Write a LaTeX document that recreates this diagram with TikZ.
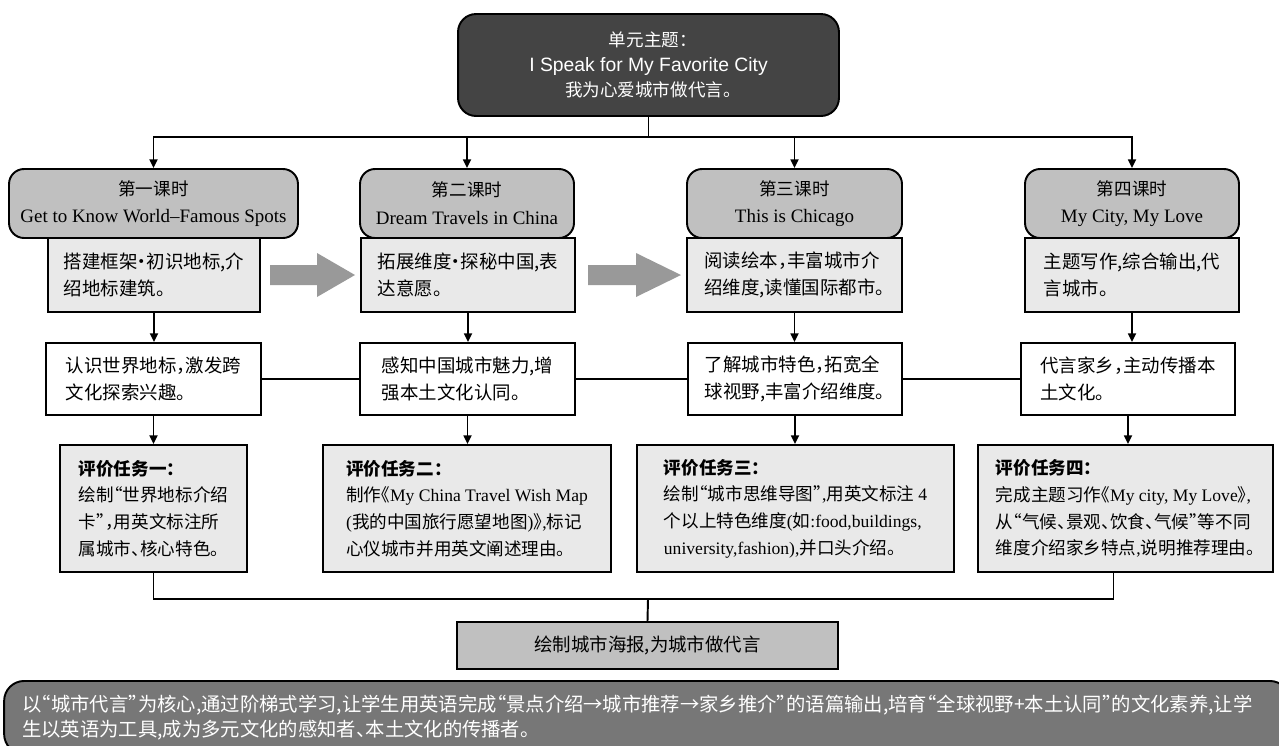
\documentclass[tikz,border=0pt]{standalone}
\usepackage{fontspec}
\setmainfont{Liberation Serif}
\newfontfamily\cjk[RawFeature=+halt]{Noto Sans CJK SC}
\newfontfamily\arialfont{Liberation Sans}
\usetikzlibrary{arrows.meta}
\usepackage{xcolor}
\definecolor{color444444}{HTML}{444444}
\definecolor{colorc0c0c0}{HTML}{C0C0C0}
\definecolor{colore9e9e9}{HTML}{E9E9E9}
\definecolor{color777777}{HTML}{777777}
\definecolor{color999999}{HTML}{999999}
\newcommand{\entxt}[1]{{\rmfamily #1}}
\newcommand{\entitle}[1]{{\rmfamily\fontsize{10.8}{15.8}\selectfont #1}}

\begin{document}
\begin{tikzpicture}
    [x=0.02cm, y=-0.02cm,
     >={Triangle[length=5pt,width=4.5pt]},  % small black tips
     line width=1.1pt,
     theme/.style={rectangle, fill=color444444, draw=black, rounded corners=0.36cm, minimum width=7.62cm, minimum height=2.04cm, text=white, align=center, font=\cjk\fontsize{10}{14.2}\selectfont},
     lesson/.style={rectangle, fill=colorc0c0c0, draw=black, rounded corners=0.3cm, minimum height=1.38cm, align=center, font=\cjk\fontsize{10}{15.8}\selectfont},
     stage/.style={rectangle, fill=colore9e9e9, draw=black, minimum height=1.48cm, align=left, font=\cjk\fontsize{10.5}{15.8}\selectfont},
     aim/.style={rectangle, fill=white, draw=black, minimum height=1.44cm, align=left, font=\cjk\fontsize{10.5}{15.6}\selectfont},
     task/.style={rectangle, fill=colore9e9e9, draw=black, minimum height=2.54cm, align=left, font=\cjk\fontsize{10}{15.2}\selectfont},
     poster/.style={rectangle, fill=colorc0c0c0, draw=black, minimum width=7.62cm, minimum height=0.94cm, font=\cjk\fontsize{10.5}{12}\selectfont},
     summary/.style={rectangle, fill=color777777, draw=black, rounded corners=0.4cm, text=white, align=left, text width=25cm, inner xsep=0.36cm, inner ysep=0.28cm, font=\cjk\fontsize{11}{14.2}\selectfont},
     bigarrow/.style={fill=color999999},
    ]
\useasboundingbox (0,0) rectangle (1279,745);

% theme
\node[theme] (theme) at (648.5,65) {单元主题：\\{\arialfont\fontsize{11}{14.2}\selectfont I Speak for My Favorite City}\\我为心爱城市做代言。};

% lessons
\node[lesson, minimum width=5.78cm] (h1) at (153.5,203.5) {第一课时\\\entitle{Get to Know World–Famous Spots}};
\node[lesson, minimum width=4.28cm] (h2) at (467,203.5) {第二课时\\\entitle{Dream Travels in China}};
\node[lesson, minimum width=4.3cm] (h3) at (794.5,203.5) {第三课时\\\entitle{This is Chicago}};
\node[lesson, minimum width=4.28cm] (h4) at (1132,203.5) {第四课时\\\entitle{My City, My Love}};

\node[stage, minimum width=4.24cm] (c1) at (154,275) {搭建框架·初识地标,介\\绍地标建筑。};
\node[stage, minimum width=4.28cm] (c2) at (468,275) {拓展维度·探秘中国,表\\达意愿。};
\node[stage, minimum width=4.3cm] (c3) at (794.5,275) {阅读绘本，丰富城市介\\绍维度,读懂国际都市。};
\node[stage, minimum width=4.28cm] (c4) at (1132,275) {主题写作,综合输出,代\\言城市。};

\node[aim, minimum width=4.3cm] (o1) at (153.5,379) {认识世界地标，激发跨\\文化探索兴趣。};
\node[aim, minimum width=4.3cm] (o2) at (467.5,379) {感知中国城市魅力,增\\强本土文化认同。};
\node[aim, minimum width=4.28cm] (o3) at (795,379) {了解城市特色，拓宽全\\球视野,丰富介绍维度。};
\node[aim, minimum width=4.28cm] (o4) at (1128,379) {代言家乡，主动传播本\\土文化。};

\node[task, minimum width=3.74cm] (e1) at (153.5,508.5) {{\bfseries 评价任务一：}\\绘制“世界地标介绍\\卡”，用英文标注所\\属城市、核心特色。};
\node[task, minimum width=5.76cm] (e2) at (467,508.5) {{\bfseries 评价任务二：}\\制作《\entxt{My China Travel Wish Map}\\\entxt{(}我的中国旅行愿望地图\entxt{)}》\entxt{,}标记\\心仪城市并用英文阐述理由。};
\node[task, minimum width=6.34cm] (e3) at (795.5,508.5) {{\bfseries 评价任务三：}\\绘制“城市思维导图”\entxt{,}用英文标注 \entxt{4}\\个以上特色维度\entxt{(}如\entxt{:food,buildings,}\\\entxt{university,fashion),}并口头介绍。};
\node[task, minimum width=5.9cm] (e4) at (1125.5,508.5) {{\bfseries 评价任务四：}\\完成主题习作《\entxt{My city, My Love}》\entxt{,}\\从“气候、景观、饮食、气候”等不同\\维度介绍家乡特点\entxt{,}说明推荐理由。};

\node[poster] (poster) at (647.5,645.5) {绘制城市海报,为城市做代言};
\node[summary, anchor=north] (summary) at (647,680) {以“城市代言”为核心,通过阶梯式学习,让学生用英语完成“景点介绍→城市推荐→家乡推介”的语篇输出,培育“全球视野+本土认同”的文化素养,让学\\生以英语为工具,成为多元文化的感知者、本土文化的传播者。};

% connectors
\coordinate (topbus) at (648.5,137);
\draw (theme.south) -- (topbus);
\foreach \n in {h1,h2,h3,h4}
    \draw[->] (topbus) -| (\n.north);
\foreach \n in {1,2,3,4} {
    \draw[->] (c\n.south) -- (c\n.south |- o\n.north);
    \draw[->] (o\n.south) -- (o\n.south |- e\n.north);
}
\foreach \a/\b in {o1/o2,o2/o3,o3/o4}
    \draw (\a.east) -- (\b.west);
\coordinate (footbus) at (648,599);
\draw (e1.south) |- (footbus);
\draw ([xshift=-0.24cm]e4.south) |- (footbus);
\draw (footbus) -- (poster.north);

% grey arrows between stages
\fill[bigarrow] (270,265) -- (317,265) -- (317,253) -- (355,275) -- (317,297) -- (317,285) -- (270,285) -- cycle;
\fill[bigarrow] (588,265) -- (636,265) -- (636,253) -- (681,275) -- (636,297) -- (636,285) -- (588,285) -- cycle;

\end{tikzpicture}
\end{document}
